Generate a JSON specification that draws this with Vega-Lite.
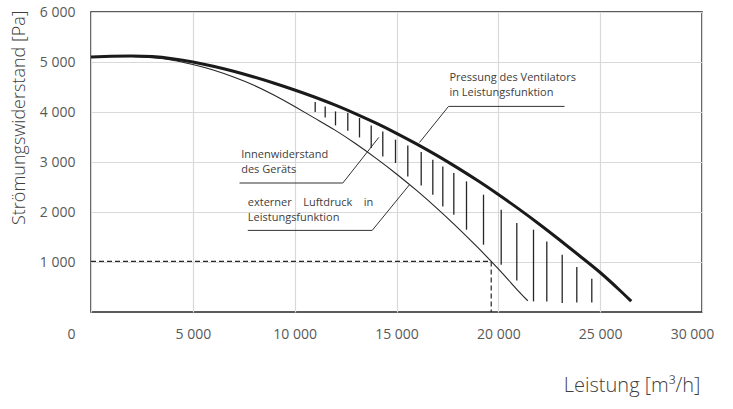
{
  "$schema": "https://vega.github.io/schema/vega-lite/v6.json",
  "width": 611,
  "height": 300,
  "autosize": {"type": "none"},
  "padding": {"left": 91, "top": 12, "right": 31, "bottom": 97},
  "background": "white",
  "config": {
    "view": {"stroke": "#262626", "strokeWidth": 1.5},
    "font": "Open Sans",
    "axis": {
      "domain": false,
      "ticks": false,
      "gridColor": "#d9d9d9",
      "gridWidth": 1.2,
      "labelFont": "Open Sans",
      "labelFontSize": 14,
      "labelColor": "#595959",
      "titleFont": "Open Sans",
      "titleColor": "#404040",
      "titleFontWeight": 300,
      "labelOverlap": false,
      "labelBound": false,
      "labelFlush": false
    }
  },
  "datasets": {
    "fan": [
      {"Q": 0, "P": 5100}, {"Q": 1000, "P": 5115}, {"Q": 2000, "P": 5122}, {"Q": 3000, "P": 5108},
      {"Q": 4000, "P": 5065}, {"Q": 5000, "P": 5000}, {"Q": 6000, "P": 4915}, {"Q": 7000, "P": 4815},
      {"Q": 8000, "P": 4700}, {"Q": 9000, "P": 4575}, {"Q": 10000, "P": 4440}, {"Q": 11000, "P": 4295},
      {"Q": 12000, "P": 4136}, {"Q": 13000, "P": 3963}, {"Q": 14000, "P": 3776}, {"Q": 15000, "P": 3574},
      {"Q": 16000, "P": 3358}, {"Q": 17000, "P": 3127}, {"Q": 18000, "P": 2882}, {"Q": 19000, "P": 2623},
      {"Q": 20000, "P": 2350}, {"Q": 21000, "P": 2062}, {"Q": 22000, "P": 1760}, {"Q": 23000, "P": 1444},
      {"Q": 24000, "P": 1120}, {"Q": 25000, "P": 790}, {"Q": 26000, "P": 420}, {"Q": 26523, "P": 216}
    ],
    "ext": [
      {"Q": 0, "P": 5100}, {"Q": 1000, "P": 5112}, {"Q": 2000, "P": 5110}, {"Q": 3000, "P": 5084},
      {"Q": 4000, "P": 5036}, {"Q": 5000, "P": 4950}, {"Q": 6000, "P": 4840}, {"Q": 7000, "P": 4700},
      {"Q": 8000, "P": 4535}, {"Q": 9000, "P": 4335}, {"Q": 10000, "P": 4110}, {"Q": 11000, "P": 3872},
      {"Q": 12000, "P": 3632}, {"Q": 13000, "P": 3364}, {"Q": 14000, "P": 3073}, {"Q": 15000, "P": 2761},
      {"Q": 16000, "P": 2426}, {"Q": 17000, "P": 2068}, {"Q": 18000, "P": 1688}, {"Q": 19000, "P": 1286},
      {"Q": 20000, "P": 861}, {"Q": 21000, "P": 414}, {"Q": 21447, "P": 225}
    ],
    "hatch": [
      {"Q": 11008, "P": 4200, "P2": 4000}, {"Q": 11499, "P": 4112, "P2": 3892},
      {"Q": 12005, "P": 4012, "P2": 3732}, {"Q": 12609, "P": 3980, "P2": 3626},
      {"Q": 13183, "P": 3880, "P2": 3492}, {"Q": 13758, "P": 3732, "P2": 3280},
      {"Q": 14327, "P": 3612, "P2": 3112}, {"Q": 14951, "P": 3446, "P2": 2980},
      {"Q": 15555, "P": 3332, "P2": 2712}, {"Q": 16213, "P": 3200, "P2": 2532},
      {"Q": 16783, "P": 3046, "P2": 2346}, {"Q": 17274, "P": 2912, "P2": 2112},
      {"Q": 17814, "P": 2780, "P2": 1946}, {"Q": 18437, "P": 2612, "P2": 1646},
      {"Q": 19272, "P": 2346, "P2": 1346}, {"Q": 20141, "P": 2046, "P2": 946},
      {"Q": 20907, "P": 1780, "P2": 632}, {"Q": 21727, "P": 1646, "P2": 212},
      {"Q": 22380, "P": 1412, "P2": 212}, {"Q": 23136, "P": 1146, "P2": 180},
      {"Q": 23853, "P": 900, "P2": 192}, {"Q": 24589, "P": 666, "P2": 192}
    ],
    "dash": [
      {"g": "h", "k": 1, "Q": 0, "P": 1012}, {"g": "h", "k": 2, "Q": 19650, "P": 1012},
      {"g": "v", "k": 1, "Q": 19650, "P": 1012}, {"g": "v", "k": 2, "Q": 19650, "P": 0}
    ],
    "leaders": [
      {"g": "a", "k": 1, "Q": 16129, "P": 3390}, {"g": "a", "k": 2, "Q": 17554, "P": 4112}, {"g": "a", "k": 3, "Q": 23249, "P": 4112},
      {"g": "b", "k": 1, "Q": 7291, "P": 2580}, {"g": "b", "k": 2, "Q": 12364, "P": 2580}, {"g": "b", "k": 3, "Q": 14131, "P": 3492},
      {"g": "c", "k": 1, "Q": 7699, "P": 1632}, {"g": "c", "k": 2, "Q": 13807, "P": 1632}, {"g": "c", "k": 3, "Q": 15638, "P": 2546}
    ],
    "notes": [
      {"Q": 17602, "P": 4680, "t": "Pressung des Ventilators"},
      {"Q": 17602, "P": 4380, "t": "in Leistungsfunktion"},
      {"Q": 7375, "P": 3146, "t": "Innenwiderstand"},
      {"Q": 7375, "P": 2846, "t": "des Geräts"},
      {"Q": 7699, "P": 2180, "t": "externer\u00a0\u00a0\u00a0\u00a0Luftdruck\u00a0\u00a0\u00a0\u00a0in"},
      {"Q": 7699, "P": 1880, "t": "Leistungsfunktion"}
    ]
  },
  "encoding": {
    "x": {
      "field": "Q",
      "type": "quantitative",
      "scale": {"domain": [0, 30000], "nice": false, "zero": true},
      "axis": {
        "values": [0, 5000, 10000, 15000, 20000, 25000, 30000],
        "labelExpr": "replace(format(datum.value, ','), ',', ' ')",
        "labelPadding": 15,
        "labelBaseline": "top",
        "labelOffset": {"condition": [{"test": "datum.value == 0", "value": -20}, {"test": "datum.value == 30000", "value": -10}], "value": 0},
        "title": "Leistung [m³/h]",
        "titleFontSize": 20,
        "titleAnchor": null,
        "titleX": 609,
        "titleY": 73,
        "titleAlign": "right",
        "titleBaseline": "middle"
      }
    },
    "y": {
      "field": "P",
      "type": "quantitative",
      "scale": {"domain": [0, 6000], "nice": false},
      "axis": {
        "values": [1000, 2000, 3000, 4000, 5000, 6000],
        "labelExpr": "replace(format(datum.value, ','), ',', ' ')",
        "labelPadding": 16,
        "title": "Strömungswiderstand [Pa]",
        "titleFontSize": 18,
        "titleAngle": -90,
        "titleX": -63,
        "titleY": -2,
        "titleAlign": "right",
        "titleBaseline": "bottom"
      }
    }
  },
  "layer": [
    {
      "data": {"name": "hatch"},
      "mark": {"type": "rule", "color": "#262626", "strokeWidth": 1.3},
      "encoding": {"y2": {"field": "P2"}}
    },
    {
      "data": {"name": "ext"},
      "mark": {"type": "line", "color": "#262626", "strokeWidth": 1.1, "interpolate": "natural"},
      "encoding": {}
    },
    {
      "data": {"name": "fan"},
      "mark": {"type": "line", "color": "#1a1a1a", "strokeWidth": 3, "interpolate": "natural"},
      "encoding": {}
    },
    {
      "data": {"name": "dash"},
      "mark": {"type": "line", "color": "#262626", "strokeWidth": 1.2, "strokeDash": [5, 3]},
      "encoding": {"detail": {"field": "g"}, "order": {"field": "k"}}
    },
    {
      "data": {"name": "leaders"},
      "mark": {"type": "line", "color": "#333333", "strokeWidth": 1},
      "encoding": {"detail": {"field": "g"}, "order": {"field": "k"}}
    },
    {
      "data": {"name": "notes"},
      "mark": {"type": "text", "align": "left", "baseline": "middle", "font": "Open Sans", "fontSize": 11, "color": "#404040"},
      "encoding": {"text": {"field": "t"}}
    }
  ]
}
